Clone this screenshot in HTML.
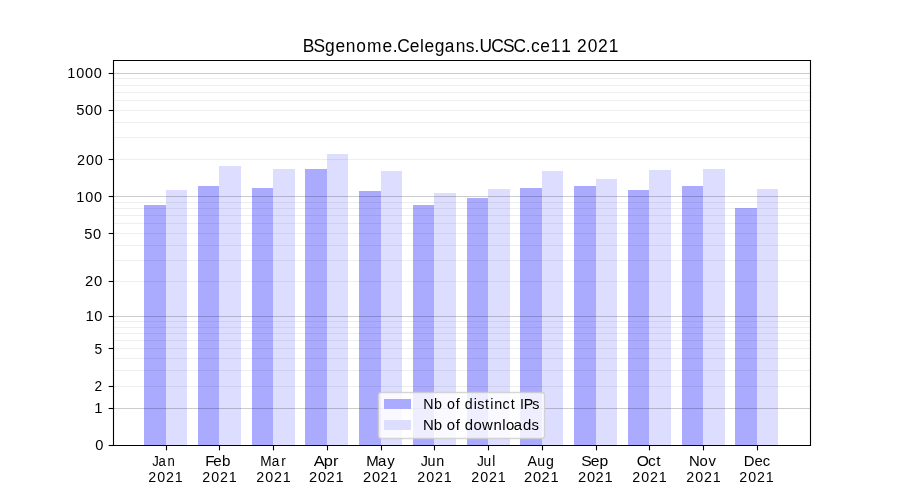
<!DOCTYPE html>
<html><head><meta charset="utf-8"><title>BSgenome.Celegans.UCSC.ce11 2021</title><style>
html,body{margin:0;padding:0;background:#fff;overflow:hidden;}
svg{display:block;will-change:transform;}
text{font-family:"Liberation Sans",sans-serif;fill:#000;}
</style></head><body>
<svg width="900" height="500" viewBox="0 0 900 500">

<rect x="144" y="205" width="22" height="240" fill="#00f" fill-opacity="0.333"/>
<rect x="166" y="190" width="21" height="255" fill="#00f" fill-opacity="0.135"/>
<rect x="198" y="186" width="21" height="259" fill="#00f" fill-opacity="0.333"/>
<rect x="219" y="166" width="22" height="279" fill="#00f" fill-opacity="0.135"/>
<rect x="252" y="188" width="21" height="257" fill="#00f" fill-opacity="0.333"/>
<rect x="273" y="169" width="22" height="276" fill="#00f" fill-opacity="0.135"/>
<rect x="305" y="169" width="22" height="276" fill="#00f" fill-opacity="0.333"/>
<rect x="327" y="154" width="21" height="291" fill="#00f" fill-opacity="0.135"/>
<rect x="359" y="191" width="22" height="254" fill="#00f" fill-opacity="0.333"/>
<rect x="381" y="171" width="21" height="274" fill="#00f" fill-opacity="0.135"/>
<rect x="413" y="205" width="21" height="240" fill="#00f" fill-opacity="0.333"/>
<rect x="434" y="193" width="22" height="252" fill="#00f" fill-opacity="0.135"/>
<rect x="467" y="198" width="21" height="247" fill="#00f" fill-opacity="0.333"/>
<rect x="488" y="189" width="22" height="256" fill="#00f" fill-opacity="0.135"/>
<rect x="520" y="188" width="22" height="257" fill="#00f" fill-opacity="0.333"/>
<rect x="542" y="171" width="21" height="274" fill="#00f" fill-opacity="0.135"/>
<rect x="574" y="186" width="22" height="259" fill="#00f" fill-opacity="0.333"/>
<rect x="596" y="179" width="21" height="266" fill="#00f" fill-opacity="0.135"/>
<rect x="628" y="190" width="21" height="255" fill="#00f" fill-opacity="0.333"/>
<rect x="649" y="170" width="22" height="275" fill="#00f" fill-opacity="0.135"/>
<rect x="682" y="186" width="21" height="259" fill="#00f" fill-opacity="0.333"/>
<rect x="703" y="169" width="22" height="276" fill="#00f" fill-opacity="0.135"/>
<rect x="735" y="208" width="22" height="237" fill="#00f" fill-opacity="0.333"/>
<rect x="757" y="189" width="21" height="256" fill="#00f" fill-opacity="0.135"/>
<line x1="114" x2="810" y1="386.5" y2="386.5" stroke="#000" stroke-opacity="0.065" stroke-width="1.11"/>
<line x1="114" x2="810" y1="370.5" y2="370.5" stroke="#000" stroke-opacity="0.065" stroke-width="1.11"/>
<line x1="114" x2="810" y1="358.5" y2="358.5" stroke="#000" stroke-opacity="0.065" stroke-width="1.11"/>
<line x1="114" x2="810" y1="348.5" y2="348.5" stroke="#000" stroke-opacity="0.065" stroke-width="1.11"/>
<line x1="114" x2="810" y1="340.5" y2="340.5" stroke="#000" stroke-opacity="0.065" stroke-width="1.11"/>
<line x1="114" x2="810" y1="333.5" y2="333.5" stroke="#000" stroke-opacity="0.065" stroke-width="1.11"/>
<line x1="114" x2="810" y1="327.5" y2="327.5" stroke="#000" stroke-opacity="0.065" stroke-width="1.11"/>
<line x1="114" x2="810" y1="321.5" y2="321.5" stroke="#000" stroke-opacity="0.065" stroke-width="1.11"/>
<line x1="114" x2="810" y1="281.5" y2="281.5" stroke="#000" stroke-opacity="0.065" stroke-width="1.11"/>
<line x1="114" x2="810" y1="260.5" y2="260.5" stroke="#000" stroke-opacity="0.065" stroke-width="1.11"/>
<line x1="114" x2="810" y1="245.5" y2="245.5" stroke="#000" stroke-opacity="0.065" stroke-width="1.11"/>
<line x1="114" x2="810" y1="233.5" y2="233.5" stroke="#000" stroke-opacity="0.065" stroke-width="1.11"/>
<line x1="114" x2="810" y1="223.5" y2="223.5" stroke="#000" stroke-opacity="0.065" stroke-width="1.11"/>
<line x1="114" x2="810" y1="215.5" y2="215.5" stroke="#000" stroke-opacity="0.065" stroke-width="1.11"/>
<line x1="114" x2="810" y1="208.5" y2="208.5" stroke="#000" stroke-opacity="0.065" stroke-width="1.11"/>
<line x1="114" x2="810" y1="202.5" y2="202.5" stroke="#000" stroke-opacity="0.065" stroke-width="1.11"/>
<line x1="114" x2="810" y1="159.5" y2="159.5" stroke="#000" stroke-opacity="0.065" stroke-width="1.11"/>
<line x1="114" x2="810" y1="137.5" y2="137.5" stroke="#000" stroke-opacity="0.065" stroke-width="1.11"/>
<line x1="114" x2="810" y1="122.5" y2="122.5" stroke="#000" stroke-opacity="0.065" stroke-width="1.11"/>
<line x1="114" x2="810" y1="110.5" y2="110.5" stroke="#000" stroke-opacity="0.065" stroke-width="1.11"/>
<line x1="114" x2="810" y1="100.5" y2="100.5" stroke="#000" stroke-opacity="0.065" stroke-width="1.11"/>
<line x1="114" x2="810" y1="92.5" y2="92.5" stroke="#000" stroke-opacity="0.065" stroke-width="1.11"/>
<line x1="114" x2="810" y1="85.5" y2="85.5" stroke="#000" stroke-opacity="0.065" stroke-width="1.11"/>
<line x1="114" x2="810" y1="78.5" y2="78.5" stroke="#000" stroke-opacity="0.065" stroke-width="1.11"/>
<line x1="114" x2="810" y1="408.5" y2="408.5" stroke="#000" stroke-opacity="0.2" stroke-width="1.11"/>
<line x1="114" x2="810" y1="316.5" y2="316.5" stroke="#000" stroke-opacity="0.2" stroke-width="1.11"/>
<line x1="114" x2="810" y1="196.5" y2="196.5" stroke="#000" stroke-opacity="0.2" stroke-width="1.11"/>
<line x1="114" x2="810" y1="73.5" y2="73.5" stroke="#000" stroke-opacity="0.2" stroke-width="1.11"/>
<path d="M113.5 60.5 V445.5 M810.5 60.5 V445.5 M112.95 60.5 H811.05 M112.95 445.5 H811.05" stroke="#000" stroke-width="1.11" fill="none"/>
<line x1="108.64" x2="113.5" y1="445.5" y2="445.5" stroke="#000" stroke-width="1.11"/>
<line x1="108.64" x2="113.5" y1="408.5" y2="408.5" stroke="#000" stroke-width="1.11"/>
<line x1="108.64" x2="113.5" y1="386.5" y2="386.5" stroke="#000" stroke-width="1.11"/>
<line x1="108.64" x2="113.5" y1="348.5" y2="348.5" stroke="#000" stroke-width="1.11"/>
<line x1="108.64" x2="113.5" y1="316.5" y2="316.5" stroke="#000" stroke-width="1.11"/>
<line x1="108.64" x2="113.5" y1="281.5" y2="281.5" stroke="#000" stroke-width="1.11"/>
<line x1="108.64" x2="113.5" y1="233.5" y2="233.5" stroke="#000" stroke-width="1.11"/>
<line x1="108.64" x2="113.5" y1="196.5" y2="196.5" stroke="#000" stroke-width="1.11"/>
<line x1="108.64" x2="113.5" y1="159.5" y2="159.5" stroke="#000" stroke-width="1.11"/>
<line x1="108.64" x2="113.5" y1="110.5" y2="110.5" stroke="#000" stroke-width="1.11"/>
<line x1="108.64" x2="113.5" y1="73.5" y2="73.5" stroke="#000" stroke-width="1.11"/>
<line x1="166.5" x2="166.5" y1="445.5" y2="450.36" stroke="#000" stroke-width="1.11"/>
<line x1="219.5" x2="219.5" y1="445.5" y2="450.36" stroke="#000" stroke-width="1.11"/>
<line x1="273.5" x2="273.5" y1="445.5" y2="450.36" stroke="#000" stroke-width="1.11"/>
<line x1="327.5" x2="327.5" y1="445.5" y2="450.36" stroke="#000" stroke-width="1.11"/>
<line x1="381.5" x2="381.5" y1="445.5" y2="450.36" stroke="#000" stroke-width="1.11"/>
<line x1="434.5" x2="434.5" y1="445.5" y2="450.36" stroke="#000" stroke-width="1.11"/>
<line x1="488.5" x2="488.5" y1="445.5" y2="450.36" stroke="#000" stroke-width="1.11"/>
<line x1="542.5" x2="542.5" y1="445.5" y2="450.36" stroke="#000" stroke-width="1.11"/>
<line x1="596.5" x2="596.5" y1="445.5" y2="450.36" stroke="#000" stroke-width="1.11"/>
<line x1="649.5" x2="649.5" y1="445.5" y2="450.36" stroke="#000" stroke-width="1.11"/>
<line x1="703.5" x2="703.5" y1="445.5" y2="450.36" stroke="#000" stroke-width="1.11"/>
<line x1="757.5" x2="757.5" y1="445.5" y2="450.36" stroke="#000" stroke-width="1.11"/>
<rect x="378.5" y="392.5" width="166" height="46" rx="2.78" ry="2.78" fill="#fff" fill-opacity="0.8" stroke="#ccc" stroke-opacity="0.8" stroke-width="1.39"/>
<rect x="384" y="399" width="27" height="10" fill="#aaaaff"/>
<rect x="384" y="420" width="27" height="10" fill="#ddddff"/>

<text transform="matrix(1.03104 0 0 1 -0.250 450.00)" x="92.555" y="0" style="font-size:14.200px">0</text>
<text transform="matrix(1.04382 0 0 1 -0.500 413.00)" x="90.715" y="0" style="font-size:14.200px">1</text>
<text transform="matrix(0.94510 0 0 1 0.000 391.00)" x="99.892" y="0" style="font-size:14.484px">2</text>
<text transform="matrix(0.99291 0 0 1 0.000 354.00)" x="95.121" y="0" style="font-size:13.916px">5</text>
<text transform="matrix(1.01898 0 0 1 -1.250 321.00)" x="85.094 93.832" y="0" style="font-size:14.484px">10</text>
<text transform="matrix(1.02281 0 0 1 0.000 286.00)" x="83.197 92.007" y="0" style="font-size:14.484px">20</text>
<text transform="matrix(0.99253 0 0 1 -1.000 239.00)" x="85.855 94.803" y="0" style="font-size:14.768px">50</text>
<text transform="matrix(1.01665 0 0 1 -1.500 202.00)" x="76.528 85.282 93.965" y="0" style="font-size:14.200px">100</text>
<text transform="matrix(0.99905 0 0 1 -0.250 165.00)" x="77.264 86.284 95.120" y="0" style="font-size:14.484px">200</text>
<text transform="matrix(1.04217 0 0 1 -1.000 115.00)" x="74.052 82.573 91.044" y="0" style="font-size:14.200px">500</text>
<text transform="matrix(1.02034 0 0 1 -1.500 78.00)" x="67.416 76.139 84.791 93.443" y="0" style="font-size:14.200px">1000</text>
<text transform="matrix(0.88816 0 0 1 -0.500 466.00)" x="172.076 178.939 189.266" y="0" style="font-size:14.768px">Jan</text>
<text transform="matrix(0.98181 0 0 1 0.000 482.00)" x="151.008 160.185 168.990 178.098" y="0" style="font-size:14.484px">2021</text>
<text transform="matrix(1.05065 0 0 1 -0.750 466.00)" x="196.013 203.623 211.926" y="0" style="font-size:14.484px">Feb</text>
<text transform="matrix(0.98181 0 0 1 0.000 482.00)" x="206.008 215.186 223.991 233.098" y="0" style="font-size:14.484px">2021</text>
<text transform="matrix(0.92283 0 0 1 0.250 466.00)" x="281.694 294.280 304.485" y="0" style="font-size:14.768px">Mar</text>
<text transform="matrix(0.98181 0 0 1 0.000 482.00)" x="261.009 270.187 278.992 288.099" y="0" style="font-size:14.484px">2021</text>
<text transform="matrix(1.17948 0 0 1 -0.500 466.00)" x="266.360 274.947 282.782" y="0" style="font-size:13.916px">Apr</text>
<text transform="matrix(1.05254 0 0 1 -0.250 482.00)" x="293.711 302.272 310.485 318.975" y="0" style="font-size:13.916px">2021</text>
<text transform="matrix(1.05526 0 0 1 -0.250 466.00)" x="347.203 358.361 367.179" y="0" style="font-size:14.200px">May</text>
<text transform="matrix(1.05254 0 0 1 -0.250 482.00)" x="345.016 353.577 361.790 370.280" y="0" style="font-size:13.916px">2021</text>
<text transform="matrix(0.99281 0 0 1 -0.750 466.00)" x="424.605 431.284 440.203" y="0" style="font-size:14.484px">Jun</text>
<text transform="matrix(0.98181 0 0 1 0.000 482.00)" x="424.993 434.170 442.975 452.083" y="0" style="font-size:14.484px">2021</text>
<text transform="matrix(0.95163 0 0 1 -0.750 466.00)" x="501.962 508.966 518.060" y="0" style="font-size:14.484px">Jul</text>
<text transform="matrix(0.98181 0 0 1 0.000 482.00)" x="479.993 489.171 497.976 507.083" y="0" style="font-size:14.484px">2021</text>
<text transform="matrix(1.01669 0 0 1 -0.500 466.00)" x="519.256 528.993 537.592" y="0" style="font-size:13.916px">Aug</text>
<text transform="matrix(1.05254 0 0 1 -0.250 482.00)" x="497.980 506.541 514.754 523.244" y="0" style="font-size:13.916px">2021</text>
<text transform="matrix(1.08451 0 0 1 -1.000 466.00)" x="536.952 545.708 553.746" y="0" style="font-size:14.484px">Sep</text>
<text transform="matrix(1.05254 0 0 1 -0.250 482.00)" x="549.284 557.845 566.059 574.549" y="0" style="font-size:13.916px">2021</text>
<text transform="matrix(1.09705 0 0 1 -1.000 466.00)" x="581.226 591.490 599.144" y="0" style="font-size:14.200px">Oct</text>
<text transform="matrix(0.98181 0 0 1 0.000 482.00)" x="643.977 653.155 661.959 671.067" y="0" style="font-size:14.484px">2021</text>
<text transform="matrix(1.04843 0 0 1 -0.500 466.00)" x="657.605 667.788 676.148" y="0" style="font-size:14.200px">Nov</text>
<text transform="matrix(0.98181 0 0 1 0.000 482.00)" x="698.977 708.155 716.960 726.068" y="0" style="font-size:14.484px">2021</text>
<text transform="matrix(1.00735 0 0 1 0.000 466.00)" x="738.207 748.983 757.227" y="0" style="font-size:14.768px">Dec</text>
<text transform="matrix(0.98181 0 0 1 0.000 482.00)" x="752.960 762.137 770.942 780.050" y="0" style="font-size:14.484px">2021</text>
<text transform="matrix(0.96322 0 0 1 -0.500 52.00)" x="314.835 326.094 337.852 348.779 359.562 370.277 381.515 397.710 408.226 412.903 425.867 436.547 441.281 451.929 462.151 473.596 484.150 493.261 498.327 510.571 522.762 533.579 546.440 551.731 561.519 572.190 583.171 594.005 599.501 610.711 621.464 632.583" y="0" style="font-size:18.054px">BSgenome.Celegans.UCSC.ce11&#160;2021</text>
<text transform="matrix(0.96501 0 0 1 0.500 409.00)" x="438.008 449.272 458.079 462.713 471.879 476.508 481.213 490.335 494.121 502.189 507.459 511.573 520.296 528.839 533.979 538.384 542.212 551.122" y="0" style="font-size:14.768px">Nb&#160;of&#160;distinct&#160;IPs</text>
<text transform="matrix(1.01166 0 0 1 0.500 430.00)" x="417.562 428.356 436.859 441.185 450.018 454.439 458.839 467.470 476.039 487.255 495.940 499.581 507.451 516.452 524.968" y="0" style="font-size:14.768px">Nb&#160;of&#160;downloads</text>
</svg></body></html>
